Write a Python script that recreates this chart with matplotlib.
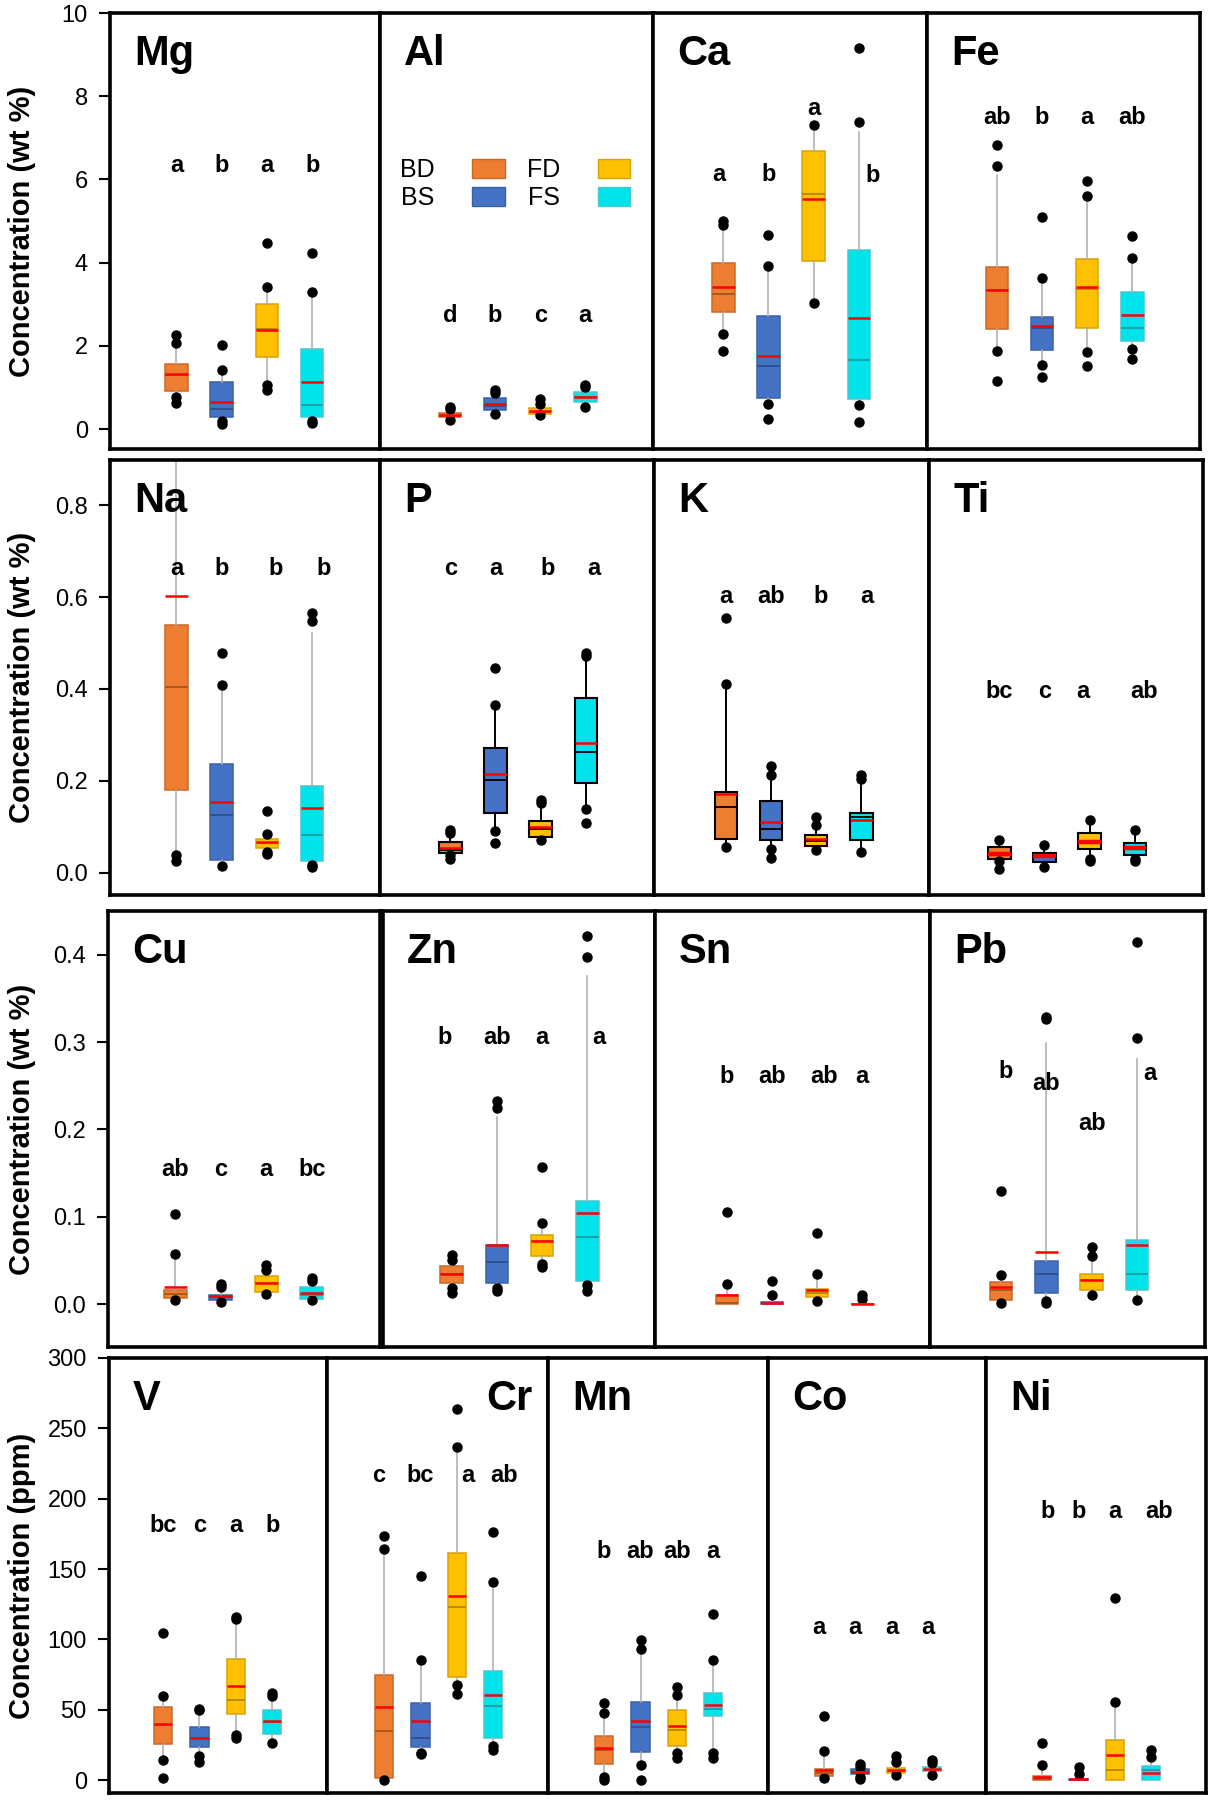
import matplotlib
matplotlib.use('Agg')
import matplotlib.pyplot as plt
from matplotlib.patches import Patch

plt.rcParams['font.family'] = ['Liberation Sans', 'DejaVu Sans']

groups = ['BD', 'BS', 'FD', 'FS']
fill = ['#ED7D31', '#4472C4', '#FFC000', '#00E3EB']
edge = ['#C96A28', '#3A62A8', '#D9A300', '#45C8D0']
medc = ['#A9551C', '#2F4F8A', '#B38600', '#1E9AA3']

# box stats per group: (whisker low, q1, median, q3, whisker high)
Mg_box = [(0.80, 0.92, 1.30, 1.56, 1.95), (0.22, 0.28, 0.47, 1.14, 1.40),
          (1.10, 1.72, 2.40, 3.00, 3.32), (0.25, 0.30, 0.57, 1.92, 3.22)]
Mg_mean = [1.32, 0.66, 2.38, 1.13]
Mg_out = [[0.63, 0.78, 2.06, 2.26], [0.11, 0.19, 1.42, 2.01], [0.95, 1.06, 3.41, 4.48], [0.14, 0.20, 3.30, 4.23]]
Mg_let = ['a', 'b', 'a', 'b']

Al_box = [(0.27, 0.28, 0.32, 0.38, 0.45), (0.40, 0.46, 0.55, 0.74, 0.84),
          (0.35, 0.36, 0.42, 0.50, 0.58), (0.55, 0.64, 0.76, 0.90, 1.00)]
Al_mean = [0.34, 0.59, 0.43, 0.76]
Al_out = [[0.22, 0.47, 0.52], [0.35, 0.86, 0.94], [0.33, 0.60, 0.72], [0.52, 1.00, 1.06]]
Al_let = ['d', 'b', 'c', 'a']

Ca_box = [(2.38, 2.82, 3.24, 4.00, 4.85), (0.65, 0.75, 1.52, 2.72, 3.83),
          (3.10, 4.05, 5.66, 6.69, 7.19), (0.65, 0.72, 1.66, 4.31, 7.15)]
Ca_mean = [3.42, 1.76, 5.53, 2.66]
Ca_out = [[1.88, 2.29, 4.91, 4.99], [0.23, 0.60, 3.92, 4.67], [3.04, 7.30], [0.18, 0.58, 7.37, 9.15]]
Ca_let = ['a', 'b', 'a', 'b']

Fe_box = [(1.95, 2.41, 3.34, 3.90, 6.10), (1.60, 1.90, 2.42, 2.69, 3.55),
          (1.90, 2.44, 3.37, 4.08, 5.55), (1.95, 2.12, 2.43, 3.30, 4.10)]
Fe_mean = [3.34, 2.48, 3.42, 2.75]
Fe_out = [[1.16, 1.88, 6.33, 6.82], [1.24, 1.54, 3.62, 5.09], [1.52, 1.84, 5.59, 5.97], [1.68, 1.92, 4.12, 4.64]]
Fe_let = ['ab', 'b', 'a', 'ab']

Na_box = [(0.042, 0.181, 0.404, 0.539, 0.95), (0.020, 0.028, 0.127, 0.236, 0.400),
          (0.050, 0.054, 0.066, 0.073, 0.090), (0.020, 0.026, 0.083, 0.189, 0.521)]
Na_mean = [0.603, 0.155, 0.067, 0.142]
Na_out = [[0.026, 0.038], [0.016, 0.408, 0.479], [0.041, 0.046, 0.084, 0.134], [0.012, 0.017, 0.547, 0.565]]
Na_let = ['a', 'b', 'b', 'b']

P_box = [(0.040, 0.044, 0.049, 0.067, 0.080), (0.090, 0.131, 0.203, 0.271, 0.360),
         (0.075, 0.078, 0.095, 0.113, 0.150), (0.140, 0.196, 0.264, 0.380, 0.470)]
P_mean = [0.055, 0.215, 0.100, 0.282]
P_out = [[0.030, 0.038, 0.086, 0.093], [0.064, 0.091, 0.365, 0.446], [0.071, 0.152, 0.158], [0.109, 0.140, 0.472, 0.478]]
P_let = ['c', 'a', 'b', 'a']

K_box = [(0.060, 0.073, 0.143, 0.176, 0.410), (0.055, 0.072, 0.095, 0.156, 0.210),
         (0.050, 0.059, 0.069, 0.082, 0.105), (0.050, 0.071, 0.121, 0.131, 0.205)]
K_mean = [0.171, 0.111, 0.073, 0.115]
K_out = [[0.057, 0.411, 0.554], [0.033, 0.053, 0.213, 0.232], [0.049, 0.105, 0.122], [0.046, 0.205, 0.213]]
K_let = ['a', 'ab', 'b', 'a']

Ti_box = [(0.026, 0.030, 0.042, 0.057, 0.071), (0.015, 0.024, 0.035, 0.044, 0.058),
          (0.031, 0.053, 0.066, 0.086, 0.115), (0.031, 0.038, 0.053, 0.065, 0.094)]
Ti_mean = [0.042, 0.036, 0.067, 0.054]
Ti_out = [[0.009, 0.026, 0.071], [0.013, 0.060], [0.026, 0.031, 0.115], [0.026, 0.031, 0.094]]
Ti_let = ['bc', 'c', 'a', 'ab']

Cu_box = [(0.006, 0.0073, 0.012, 0.0168, 0.058), (0.004, 0.005, 0.008, 0.011, 0.020),
          (0.013, 0.0145, 0.024, 0.032, 0.039), (0.006, 0.006, 0.010, 0.020, 0.027)]
Cu_mean = [0.020, 0.009, 0.024, 0.0126]
Cu_out = [[0.005, 0.058, 0.103], [0.002, 0.020, 0.023], [0.012, 0.039, 0.045], [0.005, 0.027, 0.030]]
Cu_let = ['ab', 'c', 'a', 'bc']

Zn_box = [(0.019, 0.024, 0.034, 0.044, 0.050), (0.019, 0.024, 0.048, 0.068, 0.214),
          (0.046, 0.055, 0.072, 0.079, 0.093), (0.022, 0.026, 0.077, 0.118, 0.376)]
Zn_mean = [0.034, 0.0676, 0.072, 0.104]
Zn_out = [[0.013, 0.019, 0.050, 0.056], [0.015, 0.019, 0.225, 0.232], [0.042, 0.046, 0.093, 0.157], [0.015, 0.022, 0.397, 0.421]]
Zn_let = ['b', 'ab', 'a', 'a']

Sn_box = [(0.0, 0.0, 0.001, 0.011, 0.023), (0.0, 0.0, 0.001, 0.002, 0.010),
          (0.004, 0.008, 0.0126, 0.017, 0.035), (0.0, 0.0, 0.0, 0.0005, 0.006)]
Sn_mean = [0.011, 0.0015, 0.016, 0.0]
Sn_out = [[0.023, 0.105], [0.010, 0.026], [0.004, 0.035, 0.082], [0.006, 0.011]]
Sn_let = ['b', 'ab', 'ab', 'a']

Pb_box = [(0.001, 0.005, 0.016, 0.025, 0.033), (0.004, 0.013, 0.034, 0.049, 0.299),
          (0.010, 0.016, 0.028, 0.035, 0.055), (0.005, 0.016, 0.034, 0.074, 0.281)]
Pb_mean = [0.020, 0.060, 0.028, 0.068]
Pb_out = [[0.001, 0.033, 0.129], [0.001, 0.004, 0.326, 0.329], [0.010, 0.055, 0.065], [0.005, 0.305, 0.415]]
Pb_let = ['b', 'ab', 'ab', 'a']

V_box = [(14.2, 25.3, 39.0, 52.0, 57.0), (17.0, 23.6, 30.0, 37.8, 49.6),
         (31.9, 47.2, 57.2, 86.2, 114.6), (26.5, 32.4, 41.3, 49.6, 59.5)]
V_mean = [39.5, 30.2, 66.9, 41.8]
V_out = [[1.2, 14.2, 59.5, 104.4], [13.0, 17.0, 49.6, 50.8], [30.2, 31.9, 114.6, 115.8], [26.5, 59.5, 61.9]]
V_let = ['bc', 'c', 'a', 'b']

Cr_box = [(0.0, 1.7, 34.7, 74.4, 161.8), (19.4, 23.2, 30.2, 55.0, 83.0),
          (67.3, 73.2, 123.3, 161.6, 233.9), (24.1, 30.2, 52.4, 77.5, 135.8)]
Cr_mean = [52.0, 41.8, 131.1, 60.7]
Cr_out = [[0.0, 164.2, 173.6], [18.2, 19.4, 85.5, 145.3], [61.4, 67.3, 236.7, 263.4], [21.3, 24.1, 140.6, 176.5]]
Cr_let = ['c', 'bc', 'a', 'ab']

Mn_box = [(2.4, 11.3, 21.3, 31.4, 47.7), (10.6, 20.1, 37.8, 55.3, 93.3),
          (18.9, 24.3, 35.4, 49.6, 60.2), (18.9, 45.6, 50.8, 61.9, 85.5)]
Mn_mean = [22.9, 42.0, 38.3, 53.6]
Mn_out = [[0.0, 2.4, 47.7, 55.0], [0.0, 10.6, 93.3, 99.2], [15.4, 18.9, 60.2, 66.1], [15.8, 18.9, 85.5, 118.1]]
Mn_let = ['b', 'ab', 'ab', 'a']

Co_box = [(1.2, 2.8, 5.2, 7.8, 20.8), (2.4, 4.3, 5.9, 7.6, 9.4),
          (3.5, 5.2, 6.5, 8.3, 13.0), (3.5, 6.1, 7.5, 9.2, 12.3)]
Co_mean = [7.1, 5.9, 7.1, 7.8]
Co_out = [[1.2, 20.8, 45.6], [0.5, 2.4, 9.4, 11.3], [3.5, 13.0, 17.2], [3.5, 12.3, 14.2]]
Co_let = ['a', 'a', 'a', 'a']

Ni_box = [(0.0, 0.0, 1.0, 2.8, 10.6), (0.0, 0.0, 0.3, 0.8, 4.0),
          (0.0, 0.0, 7.1, 28.3, 55.5), (0.0, 0.0, 7.1, 10.2, 16.1)]
Ni_mean = [1.9, 0.5, 17.7, 4.7]
Ni_out = [[10.6, 26.0], [4.0, 9.4], [55.5, 129.2], [16.1, 21.7]]
Ni_let = ['b', 'b', 'a', 'ab']

W, H = 1211, 1800
fig = plt.figure(figsize=(W / 100, H / 100), dpi=100)


def panel(x0, x1, ytop, ybot, name, box, mean, out, letters, let_y, let_dx=None,
          padl=1.55, ylim=None, dark=False, mean_lw=1.8, name_right=False):
    ax = fig.add_axes([x0 / W, 1 - ybot / H, (x1 - x0) / W, (ybot - ytop) / H])
    stats = []
    for b, m, o in zip(box, mean, out):
        stats.append(dict(whislo=b[0], q1=b[1], med=b[2], q3=b[3], whishi=b[4],
                          mean=m, fliers=o))
    wcol = 'black' if dark else '#ABABAB'
    res = ax.bxp(stats, positions=[1, 2, 3, 4], widths=0.5, patch_artist=True,
                 showmeans=True, meanline=True, showcaps=False, manage_ticks=False,
                 whiskerprops=dict(color=wcol, lw=1.4 if dark else 1.1),
                 meanprops=dict(color='red', linestyle='-', lw=mean_lw, zorder=4),
                 medianprops=dict(lw=1.3, zorder=3),
                 flierprops=dict(marker='o', markerfacecolor='black',
                                 markeredgecolor='black', markersize=6.5))
    for i, (bx, md) in enumerate(zip(res['boxes'], res['medians'])):
        bx.set_facecolor(fill[i])
        bx.set_edgecolor('black' if dark else edge[i])
        bx.set_linewidth(1.5 if dark else 1.1)
        md.set_color('black' if dark else medc[i])
    if let_dx is None:
        let_dx = [0, 0, 0, 0]
    if not isinstance(let_y, list):
        let_y = [let_y] * 4
    for i, t in enumerate(letters):
        ax.text(1 + i + let_dx[i], let_y[i], t, ha='center', va='baseline',
                fontsize=17, fontweight='bold')
    ax.set_xlim(1 - padl, 5.5)
    ax.set_ylim(*ylim)
    if name_right:
        ax.annotate(name, xy=(1, 1), xycoords='axes fraction', xytext=(-16, -52),
                    textcoords='offset pixels', ha='right', va='baseline',
                    fontsize=30, fontweight='bold')
    else:
        ax.annotate(name, xy=(0, 1), xycoords='axes fraction', xytext=(24, -52),
                    textcoords='offset pixels', ha='left', va='baseline',
                    fontsize=30, fontweight='bold')
    for s in ax.spines.values():
        s.set_linewidth(2.6)
        s.set_color('black')
    ax.set_xticks([])
    ax.set_yticks([])
    return ax


def yaxis(ax, ticks, labels, ytop, ybot, label):
    ax.set_yticks(ticks)
    ax.set_yticklabels(labels)
    ax.tick_params(axis='y', direction='out', length=8, width=1.5, labelsize=17, pad=8)
    fig.text(22 / W, 1 - (ytop + ybot) / 2 / H, label, rotation=90, ha='center',
             va='center', fontsize=21, fontweight='bold')


# row 1
r1 = (13, 449)
yl1 = (-0.48, 10)
a = panel(110, 380, *r1, 'Mg', Mg_box, Mg_mean, Mg_out, Mg_let, 6.18, padl=1.47, ylim=yl1)
yaxis(a, [0, 2, 4, 6, 8, 10], ['0', '2', '4', '6', '8', '10'], *r1, 'Concentration (wt %)')
al = panel(380, 653, *r1, 'Al', Al_box, Al_mean, Al_out, Al_let, 2.58, ylim=yl1)
handles = [Patch(facecolor=fill[i], edgecolor=edge[i]) for i in range(4)]
al.legend(handles, groups, ncol=2, markerfirst=False, frameon=False, fontsize=18,
          handlelength=1.3, handleheight=0.8, handletextpad=1.5, columnspacing=0.9,
          labelspacing=0.15, loc='upper left', bbox_to_anchor=(20 / 273, 1 - 145 / 436),
          borderpad=0, borderaxespad=0)
panel(653, 927, *r1, 'Ca', Ca_box, Ca_mean, Ca_out, Ca_let, [5.97, 5.97, 7.55, 5.93],
      let_dx=[-0.1, 0, 0, 0.3], ylim=yl1)
panel(927, 1200, *r1, 'Fe', Fe_box, Fe_mean, Fe_out, Fe_let, 7.34, ylim=yl1)

# row 2
r2 = (460, 895)
yl2 = (-0.048, 0.898)
a = panel(110, 380, *r2, 'Na', Na_box, Na_mean, Na_out, Na_let, 0.647,
          let_dx=[0, 0, 0.2, 0.25], padl=1.47, ylim=yl2)
yaxis(a, [0, 0.2, 0.4, 0.6, 0.8], ['0.0', '0.2', '0.4', '0.6', '0.8'], *r2,
      'Concentration (wt %)')
panel(380, 654, *r2, 'P', P_box, P_mean, P_out, P_let, 0.647,
      let_dx=[0, 0, 0.15, 0.18], ylim=yl2, dark=True)
panel(654, 929, *r2, 'K', K_box, K_mean, K_out, K_let, 0.586,
      let_dx=[0, 0, 0.1, 0.13], padl=1.59, ylim=yl2, dark=True)
panel(929, 1203, *r2, 'Ti', Ti_box, Ti_mean, Ti_out, Ti_let, 0.38,
      let_dx=[0, 0, -0.15, 0.2], ylim=yl2, dark=True, mean_lw=3.2)

# row 3
r3 = (911, 1347)
yl3 = (-0.049, 0.45)
a = panel(108, 380, *r3, 'Cu', Cu_box, Cu_mean, Cu_out, Cu_let, 0.147, padl=1.48, ylim=yl3)
yaxis(a, [0, 0.1, 0.2, 0.3, 0.4], ['0.0', '0.1', '0.2', '0.3', '0.4'], *r3,
      'Concentration (wt %)')
panel(383, 655, *r3, 'Zn', Zn_box, Zn_mean, Zn_out, Zn_let, 0.298,
      let_dx=[-0.15, 0, 0, 0.25], padl=1.52, ylim=yl3)
panel(655, 930, *r3, 'Sn', Sn_box, Sn_mean, Sn_out, Sn_let, 0.253,
      let_dx=[0, 0, 0.15, 0], padl=1.59, ylim=yl3)
panel(930, 1205, *r3, 'Pb', Pb_box, Pb_mean, Pb_out, Pb_let, [0.259, 0.245, 0.199, 0.257],
      let_dx=[0.1, 0, 0, 0.28], padl=1.57, ylim=yl3)

# row 4
r4 = (1358, 1793)
yl4 = (-9.2, 300)
a = panel(109, 327, *r4, 'V', V_box, V_mean, V_out, V_let, 176, padl=1.48, ylim=yl4)
yaxis(a, [0, 50, 100, 150, 200, 250, 300], ['0', '50', '100', '150', '200', '250', '300'],
      *r4, 'Concentration (ppm)')
panel(327, 548, *r4, 'Cr', Cr_box, Cr_mean, Cr_out, Cr_let, 212,
      let_dx=[-0.15, 0, 0.3, 0.3], padl=1.57, ylim=yl4, name_right=True)
panel(548, 768, *r4, 'Mn', Mn_box, Mn_mean, Mn_out, Mn_let, 158, padl=1.54, ylim=yl4)
panel(768, 986, *r4, 'Co', Co_box, Co_mean, Co_out, Co_let, 104,
      let_dx=[-0.12] * 4, padl=1.54, ylim=yl4)
panel(986, 1206, *r4, 'Ni', Ni_box, Ni_mean, Ni_out, Ni_let, 186,
      let_dx=[0.15, 0, 0, 0.2], padl=1.54, ylim=yl4)

fig.savefig('out.png', dpi=100)
